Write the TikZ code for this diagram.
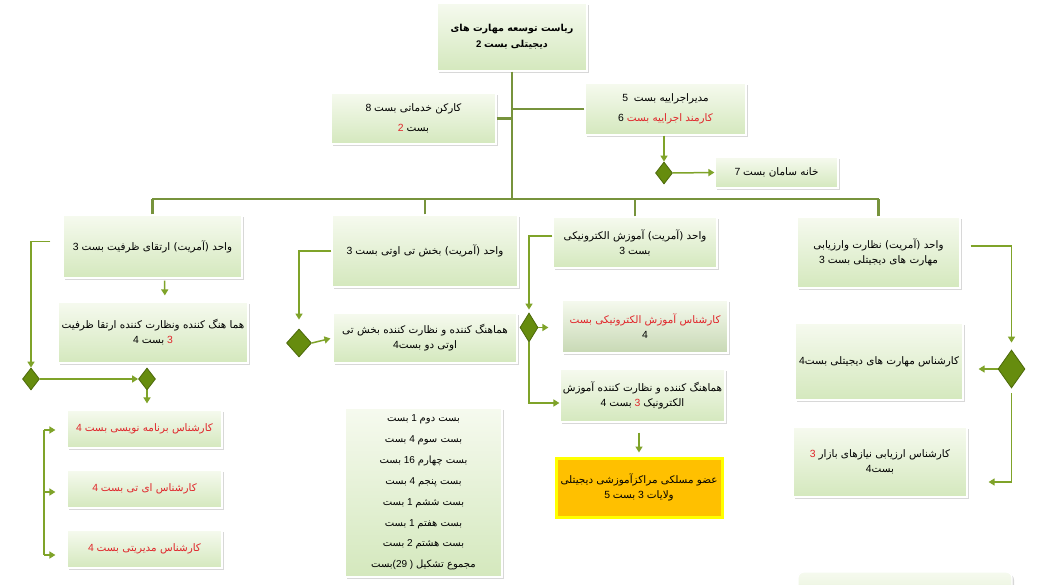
\documentclass[tikz,border=0pt]{standalone}
\usepackage{fontspec}
\usetikzlibrary{shapes.geometric,arrows.meta,shadows,calc}
\TeXXeTstate=1
\newfontfamily\ar[Script=Arabic]{DejaVu Sans}
\newfontfamily\lat{Liberation Sans}
\newcommand\rl[1]{{\ar\beginR#1\endR}}
\definecolor{boxtop}{HTML}{F6FAEF}
\definecolor{boxbot}{HTML}{D4E8BD}
\definecolor{tred}{HTML}{E0262B}
\definecolor{lnc}{HTML}{7FA329}
\definecolor{busc}{HTML}{77933C}
\definecolor{diaf}{HTML}{668C0E}
\definecolor{diad}{HTML}{4C690A}
\definecolor{ybox}{HTML}{FFC000}
\definecolor{yedge}{HTML}{FFFF00}
\tikzset{
  box/.style={draw=white, line width=1.2pt, top color=boxtop, bottom color=boxbot,
    align=center, inner sep=2pt, font=\lat\fontsize{10.4}{15}\selectfont,
    drop shadow={shadow xshift=2pt, shadow yshift=-2pt, opacity=0.3}},
  conn/.style={draw=lnc, line width=1.5pt},
  arr/.style={conn, -{Triangle[length=6pt,width=7pt]}},
  busline/.style={draw=busc, line width=2.4pt},
  dia/.style={diamond, draw=diad, fill=diaf, line width=0.8pt, inner sep=0pt,
    minimum width=17pt, minimum height=22pt},
}
\begin{document}
\begin{tikzpicture}[x=1pt,y=-1pt]
\useasboundingbox (0,0) rectangle (1038,585);
\fill[white] (0,0) rectangle (1038,585);

% top level
\node[box, minimum width=150pt, minimum height=68pt, font=\lat\bfseries\fontsize{9.6}{16}\selectfont] (top) at (512,37)
  {\rl{ریاست توسعه مهارت های}\\2 \rl{دیجیتلی بست}};
\node[box, minimum width=165pt, minimum height=51pt, font=\lat\fontsize{10.4}{20}\selectfont] (serv) at (413.5,118.5)
  {8 \rl{کارکن خدماتی بست}\\{\color{tred}2} \rl{بست}};
\node[box, minimum width=161pt, minimum height=52pt, font=\lat\fontsize{10.4}{20}\selectfont] (exec) at (665.5,109)
  {5\ \ \rl{مدیراجراییه بست}\\6 {\color{tred}\rl{کارمند اجراییه بست}}};
\node[dia] (dEx) at (664,173) {};
\node[box, minimum width=123pt, minimum height=31pt] (home) at (776.5,172.5)
  {7 \rl{خانه سامان بست}};

% column A
\node[box, minimum width=179pt, minimum height=63pt] (A) at (152.5,246.5)
  {3 \rl{واحد (آمریت) ارتقای ظرفیت بست}};
\node[box, minimum width=190pt, minimum height=61pt] (A2) at (153,332.5)
  {\rl{هما هنگ کننده ونظارت کننده ارتقا ظرفیت}\\4 \rl{بست} {\color{tred}3}};
\node[dia] (d1) at (31,379) {};
\node[dia] (d2) at (147,379) {};
\node[box, minimum width=155pt, minimum height=38pt, text=tred] (B1) at (144.5,429)
  {4 \rl{کارشناس برنامه نویسی بست}};
\node[box, minimum width=155pt, minimum height=38pt, text=tred] (B2) at (144.5,489)
  {4 \rl{کارشناس ای تی بست}};
\node[box, minimum width=155pt, minimum height=38pt, text=tred] (B3) at (144.5,549)
  {4 \rl{کارشناس مدیریتی بست}};

% column C
\node[box, minimum width=186pt, minimum height=72pt] (C) at (425,251)
  {3 \rl{واحد (آمریت) بخش تی اوتی بست}};
\node[box, minimum width=184pt, minimum height=50pt] (C2) at (425,338)
  {\rl{هماهنگ کننده و نظارت کننده بخش تی}\\4\rl{اوتی دو بست}};
\node[dia, minimum width=25pt, minimum height=28pt] (d3) at (299,343) {};
\node[box, minimum width=157pt, minimum height=169pt, font=\lat\fontsize{10}{20.9}\selectfont] (T) at (423.5,492.5)
  {\rl{بست} 1 \rl{بست دوم}\\
   \rl{بست} 4 \rl{بست سوم}\\
   \rl{بست} 16 \rl{بست چهارم}\\
   \rl{بست} 4 \rl{بست پنجم}\\
   \rl{بست} 1 \rl{بست ششم}\\
   \rl{بست} 1 \rl{بست هفتم}\\
   \rl{بست} 2 \rl{بست هشتم}\\
   \rl{بست}(29 ) \rl{مجموع تشکیل}};

% column D
\node[box, minimum width=164pt, minimum height=51pt] (D) at (635,242.5)
  {\rl{واحد (آمریت) آموزش الکترونیکی}\\3 \rl{بست}};
\node[box, minimum width=166pt, minimum height=53pt, bottom color=boxbot!85!gray] (D2) at (645,326.5)
  {{\color{tred}\rl{کارشناس آموزش الکترونیکی بست}}\\4};
\node[box, minimum width=165pt, minimum height=53pt] (D3) at (642.5,395.5)
  {\rl{هماهنگ کننده و نظارت کننده آموزش}\\4 \rl{بست} {\color{tred}3} \rl{الکترونیک}};
\node[dia, minimum width=18pt, minimum height=29pt] (d4) at (529,327.5) {};
\node[box, draw=yedge, line width=3pt, top color=ybox, bottom color=ybox, minimum width=166pt, minimum height=59pt] (Y) at (639,487.5)
  {\rl{عضو مسلکی مراکزآموزشی دیجیتلی}\\5 \rl{بست} 3 \rl{ولایات}};

% column F
\node[box, minimum width=163pt, minimum height=71pt] (F) at (878.5,252.5)
  {\rl{واحد (آمریت) نظارت وارزیابی}\\3 \rl{مهارت های دیجیتلی بست}};
\node[box, minimum width=168pt, minimum height=77pt] (F2) at (879,361.5)
  {4\rl{کارشناس مهارت های دیجیتلی بست}};
\node[box, minimum width=174pt, minimum height=70pt] (F3) at (880,462)
  {{\color{tred}3} \rl{کارشناس ارزیابی نیازهای بازار}\\4\rl{بست}};
\node[dia, minimum width=27pt, minimum height=38pt] (d5) at (1011.5,369) {};
\node[box, rounded corners=6pt, minimum width=214pt, minimum height=60pt] (P) at (905,602) {};

% bus and drops
\coordinate (busL) at (152,199);
\coordinate (busR) at (878.5,199);
\draw[busline] (busL) -- (busR);
\draw[busline] (top.south) -- (top.south |- busL);
\draw[busline] (serv.east) -- (serv.east -| top.south);
\draw[busline] (exec.west) -- (exec.west -| top.south);
\draw[busline] (A.north) -- (A.north |- busL);
\draw[busline] (C.north) -- (C.north |- busL);
\draw[busline] (D.north) -- (D.north |- busL);
\draw[busline] (F.north) -- (F.north |- busL);

% executive
\draw[arr] (dEx.north |- exec.south) -- (dEx.north);
\draw[arr] (dEx.east) -- (home.west);

% column A connectors
\draw[arr, shorten <=2pt, shorten >=6pt] ([xshift=12pt]A.south) -- ([xshift=12pt]A2.north);
\draw[arr, shorten <=12pt] ([yshift=5pt]A.west) -| (d1.north);
\draw[arr] (d1.east) -- (d2.west);
\draw[arr, shorten >=6pt] (d2.south) -- (d2.south |- B1.north);
\coordinate (k1) at (44,430);
\coordinate (k2) at (44,492);
\coordinate (k3) at (44,555);
\draw[conn] (k1) -- (k3);
\draw[arr, shorten >=11pt] (k1) -- (k1 -| B1.west);
\draw[arr, shorten >=11pt] (k2) -- (k2 -| B2.west);
\draw[arr, shorten >=11pt] (k3) -- (k3 -| B3.west);

% column C connectors
\draw[arr, shorten >=9pt] (C.west) -| (d3.north);
\draw[arr, shorten >=2pt] (d3.east) -- (C2.west);

% column D connectors
\draw[arr, shorten >=3pt] ([yshift=6.5pt]D.west) -| (d4.north);
\draw[arr, shorten >=13pt] (d4.east) -- (d4.east -| D2.west);
\draw[arr] (d4.south) |- ([yshift=-7.5pt]D3.west);
\draw[arr, shorten <=10pt, shorten >=4pt] (Y.north |- D3.south) -- (Y.north);

% column F connectors
\draw[arr, shorten <=10pt, shorten >=7pt] ([yshift=6.5pt]F.east) -| (d5.north);
\draw[arr, shorten >=15pt] (d5.west) -- (d5.west -| F2.east);
\draw[arr, shorten <=5pt, shorten >=21pt] (d5.south) |- ([yshift=-20pt]F3.east);
\end{tikzpicture}
\end{document}
